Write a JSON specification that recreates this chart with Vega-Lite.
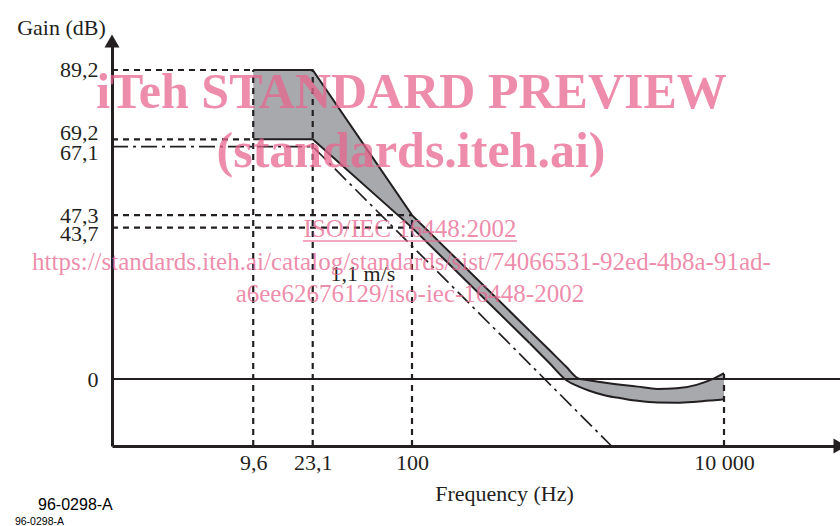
{
  "$schema": "https://vega.github.io/schema/vega-lite/v6.json",
  "width": 728,
  "height": 405,
  "autosize": {"type": "none"},
  "padding": {"left": 112, "top": 41, "right": 0, "bottom": 80},
  "background": "white",
  "config": {"view": {"stroke": null}},
  "datasets": {
    "bandA": [
      {"f": 9.6, "g": 89.2, "g2": 69.2},
      {"f": 23.1, "g": 89.2, "g2": 69.2},
      {"f": 100, "g": 47.3, "g2": 43.7},
      {"f": 568.6, "g": 13.9, "g2": 10.3}
    ],
    "bandB": [
      {"f": 568.6, "g": 13.9, "g2": 10.3},
      {"f": 759.6, "g": 8.35, "g2": 4.6},
      {"f": 971, "g": 3.6, "g2": -0.3},
      {"f": 1173, "g": 0.1, "g2": -2.2},
      {"f": 1356, "g": -0.35, "g2": -3.3},
      {"f": 1734, "g": -1.07, "g2": -4.76},
      {"f": 2250, "g": -1.73, "g2": -5.65},
      {"f": 2796, "g": -2.2, "g2": -6.3},
      {"f": 3735, "g": -2.85, "g2": -6.8},
      {"f": 4991, "g": -2.7, "g2": -6.85},
      {"f": 6666, "g": -1.7, "g2": -6.55},
      {"f": 8284, "g": -0.2, "g2": -6.2},
      {"f": 10000, "g": 1.73, "g2": -5.86}
    ],
    "lowerA": [
      {"f": 9.6, "g": 69.2},
      {"f": 23.1, "g": 69.2},
      {"f": 100, "g": 43.7},
      {"f": 568.6, "g": 10.3}
    ],
    "lowerB": [
      {"f": 568.6, "g": 10.3},
      {"f": 759.6, "g": 4.6},
      {"f": 971, "g": -0.3},
      {"f": 1173, "g": -2.2},
      {"f": 1356, "g": -3.3},
      {"f": 1734, "g": -4.76},
      {"f": 2250, "g": -5.65},
      {"f": 2796, "g": -6.3},
      {"f": 3735, "g": -6.8},
      {"f": 4991, "g": -6.85},
      {"f": 6666, "g": -6.55},
      {"f": 8284, "g": -6.2},
      {"f": 10000, "g": -5.86}
    ],
    "guides": [
      {"f": 1.194, "f2": 9.6, "g": 89.2, "g2": 89.2},
      {"f": 1.194, "f2": 9.6, "g": 69.2, "g2": 69.2},
      {"f": 1.194, "f2": 100, "g": 47.3, "g2": 47.3},
      {"f": 1.194, "f2": 100, "g": 43.7, "g2": 43.7},
      {"f": 9.6, "f2": 9.6, "g": -19.34, "g2": 89.2},
      {"f": 23.1, "f2": 23.1, "g": -19.34, "g2": 89.2},
      {"f": 100, "f2": 100, "g": -19.34, "g2": 47.3},
      {"f": 10000, "f2": 10000, "g": -19.34, "g2": 1.73}
    ],
    "zero": [{"f": 1.194, "f2": 55400, "g": 0, "g2": 0}],
    "asymptote": [
      {"f": 1.194, "g": 67.1},
      {"f": 23.1, "g": 67.1},
      {"f": 1900, "g": -19.34}
    ],
    "arrowUp": [{"f": 1.194, "g": 97.57}],
    "arrowRight": [{"f": 55400, "g": -19.34}],
    "speed": [{"f": 48.5, "g": 28.29, "label": "1,1 m/s"}],
    "codeBig": [{"f": 0.401, "g": -37.82, "label": "96-0298-A"}],
    "codeSmall": [{"f": 0.285, "g": -42.15, "label": "96-0298-A"}],
    "wmBig": [
      {"f": 99.3, "g": 78.23, "label": "iTeh STANDARD PREVIEW"},
      {"f": 98.5, "g": 61.2, "label": "(standards.iteh.ai)"}
    ],
    "wmSmall": [
      {"f": 97.1, "g": 41.0, "label": "ISO/IEC 16448:2002"},
      {"f": 85.6, "g": 31.47, "label": "https://standards.iteh.ai/catalog/standards/sist/74066531-92ed-4b8a-91ad-"},
      {"f": 97, "g": 22.23, "label": "a6ee62676129/iso-iec-16448-2002"}
    ],
    "underline": [{"f": 20.0, "f2": 471, "g": 39.84, "g2": 39.84}]
  },
  "encoding": {
    "x": {
      "field": "f",
      "type": "quantitative",
      "scale": {"type": "log", "domain": [1.194, 55400], "nice": false},
      "axis": {
        "title": "Frequency (Hz)",
        "values": [9.6, 23.1, 100, 10000],
        "labelExpr": "datum.value == 10000 ? '10 000' : replace(toString(datum.value), '.', ',')",
        "ticks": false,
        "grid": false,
        "domainColor": "#231f20",
        "domainWidth": 3,
        "labelFont": "Liberation Serif",
        "labelFontSize": 22,
        "labelColor": "#231f20",
        "labelPadding": 6,
        "labelOverlap": false,
        "labelFlush": false,
        "titleFont": "Liberation Serif",
        "titleFontSize": 22,
        "titleFontWeight": "normal",
        "titleColor": "#231f20",
        "titleX": 392,
        "titleY": 54,
        "titleAlign": "center",
        "titleBaseline": "alphabetic"
      }
    },
    "y": {
      "field": "g",
      "type": "quantitative",
      "scale": {"domain": [-19.34, 97.57], "nice": false, "zero": false},
      "axis": {
        "title": "Gain (dB)",
        "values": [0, 43.7, 47.3, 67.1, 69.2, 89.2],
        "labelExpr": "replace(toString(datum.value), '.', ',')",
        "labelOffset": {
          "condition": [
            {"test": "datum.value == 69.2", "value": -7},
            {"test": "datum.value == 67.1", "value": 6},
            {"test": "datum.value == 47.3", "value": 0},
            {"test": "datum.value == 43.7", "value": 6}
          ],
          "value": 0
        },
        "ticks": false,
        "grid": false,
        "domainColor": "#231f20",
        "domainWidth": 3,
        "labelFont": "Liberation Serif",
        "labelFontSize": 22,
        "labelColor": "#231f20",
        "labelPadding": 14,
        "labelOverlap": false,
        "labelFlush": false,
        "titleFont": "Liberation Serif",
        "titleFontSize": 22,
        "titleFontWeight": "normal",
        "titleColor": "#231f20",
        "titleAngle": 0,
        "titleX": -51,
        "titleY": -7,
        "titleAlign": "center",
        "titleBaseline": "alphabetic"
      }
    }
  },
  "layer": [
    {
      "data": {"name": "bandA"},
      "mark": {"type": "area", "color": "#a7a9ac", "interpolate": "linear"},
      "encoding": {"y2": {"field": "g2"}}
    },
    {
      "data": {"name": "bandB"},
      "mark": {"type": "area", "color": "#a7a9ac", "interpolate": "monotone"},
      "encoding": {"y2": {"field": "g2"}}
    },
    {
      "data": {"name": "zero"},
      "mark": {"type": "rule", "color": "#231f20", "strokeWidth": 2},
      "encoding": {"x2": {"field": "f2"}, "y2": {"field": "g2"}}
    },
    {
      "data": {"name": "guides"},
      "mark": {"type": "rule", "color": "#231f20", "strokeWidth": 2.2, "strokeDash": [6, 5]},
      "encoding": {"x2": {"field": "f2"}, "y2": {"field": "g2"}}
    },
    {
      "data": {"name": "asymptote"},
      "mark": {"type": "line", "color": "#231f20", "strokeWidth": 1.7, "strokeDash": [16, 5, 3, 5]},
      "encoding": {}
    },
    {
      "data": {"name": "bandA"},
      "mark": {"type": "line", "color": "#231f20", "strokeWidth": 2, "interpolate": "linear"},
      "encoding": {}
    },
    {
      "data": {"name": "bandB"},
      "mark": {"type": "line", "color": "#231f20", "strokeWidth": 2, "interpolate": "monotone"},
      "encoding": {}
    },
    {
      "data": {"name": "lowerA"},
      "mark": {"type": "line", "color": "#231f20", "strokeWidth": 2, "interpolate": "linear"},
      "encoding": {}
    },
    {
      "data": {"name": "lowerB"},
      "mark": {"type": "line", "color": "#231f20", "strokeWidth": 2, "interpolate": "monotone"},
      "encoding": {}
    },
    {
      "data": {"name": "arrowUp"},
      "mark": {"type": "point", "shape": "triangle-up", "size": 225, "filled": true, "color": "#231f20", "opacity": 1},
      "encoding": {}
    },
    {
      "data": {"name": "arrowRight"},
      "mark": {"type": "point", "shape": "triangle-right", "size": 225, "filled": true, "color": "#231f20", "opacity": 1},
      "encoding": {}
    },
    {
      "data": {"name": "speed"},
      "mark": {"type": "text", "font": "Liberation Serif", "fontSize": 22, "color": "#231f20", "align": "center", "baseline": "alphabetic"},
      "encoding": {"text": {"field": "label"}}
    },
    {
      "data": {"name": "codeBig"},
      "mark": {"type": "text", "font": "Liberation Sans", "fontSize": 16, "color": "#000000", "align": "left", "baseline": "alphabetic"},
      "encoding": {"text": {"field": "label"}}
    },
    {
      "data": {"name": "codeSmall"},
      "mark": {"type": "text", "font": "Liberation Sans", "fontSize": 10.5, "color": "#000000", "align": "left", "baseline": "alphabetic"},
      "encoding": {"text": {"field": "label"}}
    },
    {
      "data": {"name": "wmBig"},
      "mark": {"type": "text", "font": "Liberation Serif", "fontSize": 50, "fontWeight": "bold", "color": "#e8668f", "fillOpacity": 0.75, "align": "center", "baseline": "alphabetic"},
      "encoding": {"text": {"field": "label"}}
    },
    {
      "data": {"name": "wmSmall"},
      "mark": {"type": "text", "font": "Liberation Serif", "fontSize": 25, "color": "#e8668f", "fillOpacity": 0.75, "align": "center", "baseline": "alphabetic"},
      "encoding": {"text": {"field": "label"}}
    },
    {
      "data": {"name": "underline"},
      "mark": {"type": "rule", "color": "#e8668f", "opacity": 0.75, "strokeWidth": 1.5},
      "encoding": {"x2": {"field": "f2"}, "y2": {"field": "g2"}}
    }
  ]
}
